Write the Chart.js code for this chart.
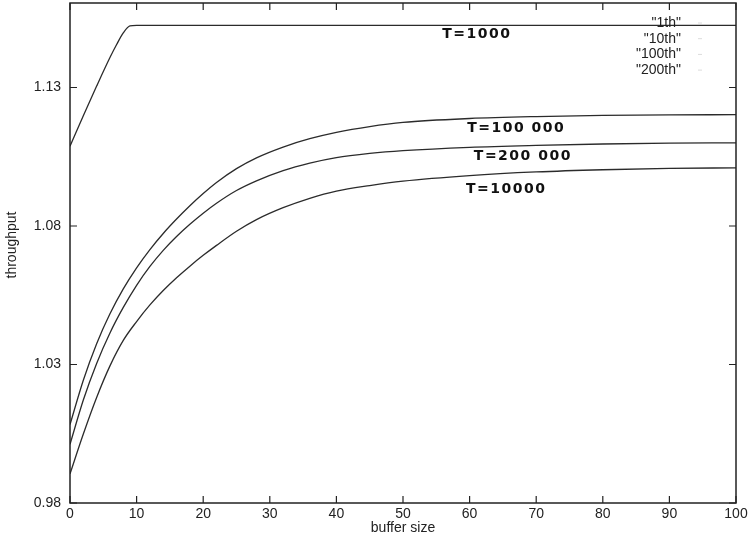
<!DOCTYPE html>
<html>
<head>
<meta charset="utf-8">
<script src="https://cdn.jsdelivr.net/npm/chart.js@4.4.1/dist/chart.umd.min.js"></script>
<style>
  html, body { margin: 0; padding: 0; background: #fff; }
  #wrap { width: 749px; height: 543px; }
</style>
</head>
<body>
<div id="wrap"><canvas id="chart"></canvas></div>
<script>
// tick values and labels
const xTicks = [0, 10, 20, 30, 40, 50, 60, 70, 80, 90, 100];
const yTicks = [0.98, 1.03, 1.08, 1.13];
const yTickLabels = ["0.98", "1.03", "1.08", "1.13"];

// gnuplot legend entries and the hand written notes on the curves
const seriesLabels = ['"1th"', '"10th"', '"100th"', '"200th"'];
const curveNotes = ["T=1000", "T=100 000", "T=200 000", "T=10000"];

// T=1000 curve (own x points, it saturates very early)
const t1000X = [0, 2, 4, 6, 7, 8, 9, 10, 100];
const t1000Y = [1.1088, 1.1198, 1.1305, 1.1408, 1.1455, 1.1497, 1.1522, 1.1524, 1.1524];

// the other three curves share the buffer sizes below
const bufferSizes = [0, 2, 4, 6, 8, 10, 12, 14, 16, 18, 20, 22, 25, 28, 32, 36, 40, 45, 50, 60, 70, 80, 90, 100];
const t100000Y = [1.0083, 1.0243, 1.0375, 1.0483, 1.0573, 1.0649, 1.0715, 1.0773, 1.0825, 1.0873, 1.0917, 1.0957,
                  1.1007, 1.1046, 1.1085, 1.1115, 1.1138, 1.1159, 1.1174, 1.1188, 1.1195, 1.1199, 1.1201, 1.1202];
const t200000Y = [1.0012, 1.0172, 1.0304, 1.0414, 1.0506, 1.0586, 1.0654, 1.0712, 1.0762, 1.0806, 1.0846, 1.0882,
                  1.0928, 1.0963, 1.1000, 1.1027, 1.1047, 1.1062, 1.1072, 1.1084, 1.1091, 1.1096, 1.1099, 1.1100];
const t10000Y = [0.9905, 1.0049, 1.0181, 1.0295, 1.0387, 1.0455, 1.0515, 1.0567, 1.0613, 1.0655, 1.0694, 1.0730,
                 1.0781, 1.0823, 1.0866, 1.0900, 1.0926, 1.0946, 1.0962, 1.0982, 1.0995, 1.1003, 1.1008, 1.1010];

const pts = (xs, ys) => xs.map((x, i) => ({ x: x, y: ys[i] }));
const INK = "#222";
const LINE = "#2b2b2b";

function ds(label, data) {
  return { label, data, borderColor: LINE, borderWidth: 1.3, pointRadius: 0,
           fill: false, cubicInterpolationMode: "monotone" };
}

function noPad(s) {
  s.paddingTop = 0; s.paddingBottom = 0; s.paddingLeft = 0; s.paddingRight = 0;
}

// frame, inward ticks on all four sides, legend and curve notes
const gnuplotDecor = {
  id: "gnuplotDecor",
  afterDraw(chart, args, opts) {
    const { ctx, chartArea: a, scales } = chart;
    const xs = scales.x, ys = scales.y;
    ctx.save();
    ctx.strokeStyle = INK;
    ctx.lineWidth = 1.5;
    ctx.strokeRect(a.left, a.top, a.right - a.left, a.bottom - a.top);
    ctx.lineWidth = 1.2;
    ctx.beginPath();
    xTicks.forEach((v) => {
      const px = xs.getPixelForValue(v);
      ctx.moveTo(px, a.bottom); ctx.lineTo(px, a.bottom - 7);
      ctx.moveTo(px, a.top); ctx.lineTo(px, a.top + 7);
    });
    yTicks.forEach((v) => {
      const py = ys.getPixelForValue(v);
      ctx.moveTo(a.left, py); ctx.lineTo(a.left + 7, py);
      ctx.moveTo(a.right, py); ctx.lineTo(a.right - 7, py);
    });
    ctx.stroke();

    // legend: right aligned text with a faint sample
    ctx.font = "14px 'Liberation Sans', Arial, sans-serif";
    ctx.fillStyle = INK;
    ctx.textAlign = "right";
    ctx.textBaseline = "middle";
    chart.data.datasets.forEach((d, i) => {
      const y = opts.legendTop + i * opts.legendStep;
      ctx.fillText(d.label, opts.legendRight, y);
      ctx.strokeStyle = "#dcdcdc";
      ctx.lineWidth = 1;
      ctx.beginPath();
      ctx.moveTo(opts.legendRight + 17, y);
      ctx.lineTo(opts.legendRight + 21, y);
      ctx.stroke();
    });

    // y axis title, placed like the original
    ctx.save();
    ctx.translate(opts.yTitleAt[0], opts.yTitleAt[1]);
    ctx.rotate(-Math.PI / 2);
    ctx.textAlign = "center";
    ctx.fillText("throughput", 0, 0);
    ctx.restore();

    // hand written notes
    ctx.font = "bold 14px 'DejaVu Sans', sans-serif";
    ctx.textAlign = "center";
    ctx.fillStyle = "#111";
    if ("letterSpacing" in ctx) ctx.letterSpacing = "1.5px";
    curveNotes.forEach((t, i) => {
      ctx.fillText(t, xs.getPixelForValue(opts.noteAt[i][0]), ys.getPixelForValue(opts.noteAt[i][1]));
    });
    ctx.restore();
  }
};

new Chart(document.getElementById("chart"), {
  type: "line",
  data: {
    datasets: [
      ds(seriesLabels[0], pts(t1000X, t1000Y)),
      ds(seriesLabels[1], pts(bufferSizes, t100000Y)),
      ds(seriesLabels[2], pts(bufferSizes, t200000Y)),
      ds(seriesLabels[3], pts(bufferSizes, t10000Y))
    ]
  },
  options: {
    responsive: true,
    maintainAspectRatio: false,
    animation: false,
    layout: { padding: { top: 3, right: 13, left: 0, bottom: 0 } },
    plugins: {
      legend: { display: false },
      tooltip: { enabled: false },
      gnuplotDecor: {
        legendRight: 681, legendTop: 23, legendStep: 15.7,
        yTitleAt: [12, 245],
        noteAt: [[61.1, 1.1491], [67.0, 1.1152], [68.0, 1.1051], [65.5, 1.0932]]
      }
    },
    scales: {
      x: {
        type: "linear", min: 0, max: 100,
        afterBuildTicks: (s) => { s.ticks = xTicks.map((v) => ({ value: v })); },
        afterFit: (s) => { s.height = 40; noPad(s); },
        grid: { display: false, drawTicks: false },
        border: { display: false },
        ticks: { color: INK, padding: 3, maxRotation: 0, autoSkip: false,
                 font: { family: "'Liberation Sans', Arial, sans-serif", size: 14 } },
        title: { display: true, text: "buffer size", color: INK, padding: { top: 0, bottom: 6 },
                 font: { family: "'Liberation Sans', Arial, sans-serif", size: 14 } }
      },
      y: {
        type: "linear", min: 0.98, max: 1.1605,
        afterBuildTicks: (s) => { s.ticks = yTicks.map((v) => ({ value: v })); },
        afterFit: (s) => { s.width = 70; noPad(s); },
        grid: { display: false, drawTicks: false },
        border: { display: false },
        ticks: { color: INK, padding: 9, autoSkip: false,
                 callback: (v, i) => yTickLabels[i],
                 font: { family: "'Liberation Sans', Arial, sans-serif", size: 14 } },
        title: { display: false }
      }
    }
  },
  plugins: [gnuplotDecor]
});
</script>
</body>
</html>
